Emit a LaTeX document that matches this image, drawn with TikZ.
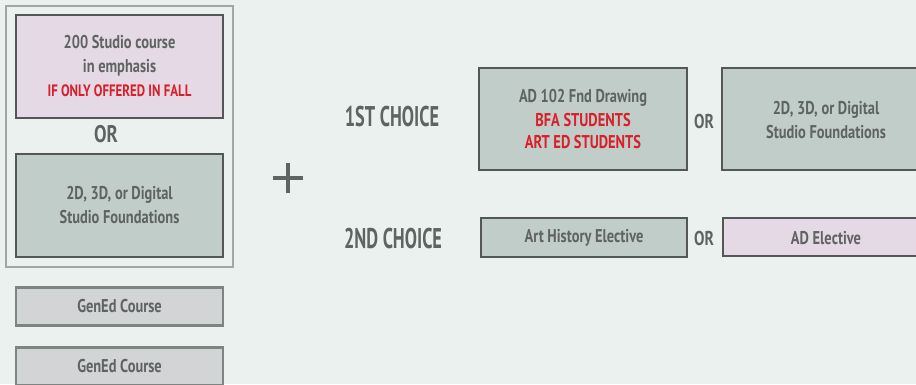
\documentclass[tikz,border=0pt]{standalone}
\usepackage{fontspec}
\setmainfont[FakeStretch=0.78,BoldFont={PT Sans Bold}]{PT Sans}
\newfontfamily\choicefont[FakeStretch=0.64]{PT Sans Bold}
\definecolor{bg}{HTML}{EBF1EF}
\definecolor{txt}{HTML}{5F6462}
\definecolor{redt}{HTML}{D81F2A}
\definecolor{pinkf}{HTML}{E6D9E6}
\definecolor{greenf}{HTML}{C1CDC8}
\definecolor{grayf}{HTML}{D3D4D5}
\definecolor{darkb}{HTML}{555756}
\definecolor{lightb}{HTML}{7D8580}
\definecolor{outerb}{HTML}{A4A6A5}
\tikzset{
  boxfont/.style={font=\bfseries\fontsize{18.5}{24}\selectfont},
  course/.style={draw=darkb, line width=2.8pt, text=txt, boxfont, align=center},
  pinkbox/.style={course, fill=pinkf},
  greenbox/.style={course, fill=greenf},
  genbox/.style={draw=lightb, line width=2.8pt, fill=grayf, text=txt, boxfont},
  ortext/.style={text=txt, font=\bfseries\fontsize{20}{22}\selectfont},
  choice/.style={text=txt, font=\choicefont\fontsize{28.5}{30}\selectfont}
}
\begin{document}
\begin{tikzpicture}[x=1pt,y=-1pt]
\fill[bg] (0,0) rectangle (916,384);
\useasboundingbox (0,0) rectangle (916,384);
% outer group
\draw[outerb, line width=2pt] (6,6) rectangle (233,267);
% left boxes
\node[pinkbox, minimum width=207pt, minimum height=103pt] (s200) at (119.5,66.5)
  {200 Studio course\\in emphasis\\{\color{redt}\fontsize{16.5}{24}\selectfont IF ONLY OFFERED IN FALL}};
\node[ortext, font=\bfseries\fontsize{24}{26}\selectfont] (or1) at (106,134) {OR};
\node[greenbox, minimum width=207pt, minimum height=103pt] (fnd1) at (119.5,205.5)
  {2D, 3D, or Digital\\Studio Foundations};
\node[genbox, minimum width=207pt, minimum height=38pt] (gen1) at (119.5,306.5) {GenEd Course};
\node[genbox, minimum width=207pt, minimum height=38pt] (gen2) at (119.5,366.5) {GenEd Course};
% plus
\coordinate (plus) at (288,178);
\draw[txt, line width=4.6pt] ([xshift=-15pt]plus) -- ([xshift=15pt]plus)
  ([yshift=-15pt]plus) -- ([yshift=15pt]plus);
% choices
\node[choice] (c1) at (392,117) {1ST CHOICE};
\node[choice] (c2) at (393,239) {2ND CHOICE};
\node[greenbox, minimum width=208pt, minimum height=102pt] (ad102) at (583,119)
  {AD 102 Fnd Drawing\\{\color{redt}BFA STUDENTS}\\[-2pt]{\color{redt}ART ED STUDENTS}};
\node[ortext] (or2) at (704,121) {OR};
\node[greenbox, minimum width=200pt, minimum height=102pt] (fnd2) at (822,119)
  {};
\node[text=txt, boxfont, align=center] (fnd2t) at (826,120.5) {2D, 3D, or Digital\\Studio Foundations};
\node[greenbox, minimum width=206pt, minimum height=39pt] (arth) at (584,237.5) {Art History Elective};
\node[ortext] (or3) at (704,238) {OR};
\node[pinkbox, minimum width=200pt, minimum height=38pt] (ade) at (823,237) {};
\node[text=txt, boxfont] (adet) at (826,238) {AD Elective};
\end{tikzpicture}
\end{document}
